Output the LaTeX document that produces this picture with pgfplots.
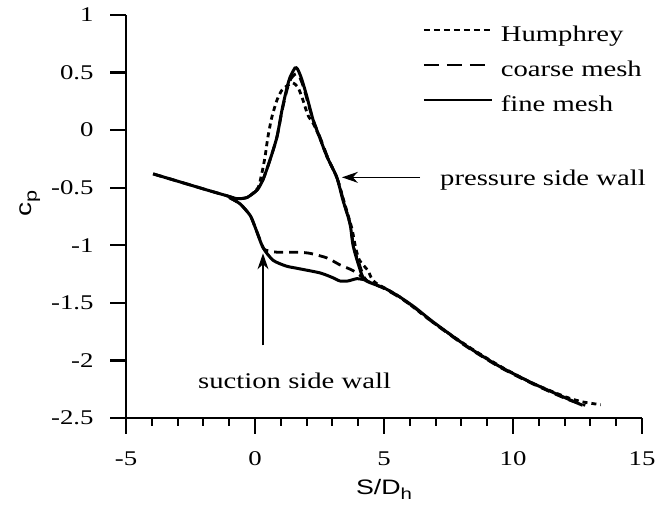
\documentclass[border=0pt]{standalone}
\usepackage{fontspec}
\setmainfont{Liberation Serif}[FakeStretch=1.28]
\setsansfont{Liberation Sans}[FakeStretch=1.28]
\usepackage{pgfplots}
\pgfplotsset{compat=1.18}
\usetikzlibrary{arrows.meta}

\newcommand{\tk}{\fontsize{21}{21}\selectfont}

% wall pressure coefficient along the duct
\pgfplotstableread{
s     cp
-3.95 -0.38
-2.9  -0.45
-1.86 -0.52
-1.09 -0.57
-0.7  -0.595
-0.31 -0.585
0.08  -0.52
0.31  -0.43
0.58  -0.26
0.85  -0.06
1.05  0.18
1.24  0.37
1.36  0.46
1.55  0.54
1.65  0.53
1.8   0.45
2.0   0.3
2.25  0.09
2.5   -0.06
2.79  -0.23
3.17  -0.41
3.41  -0.61
3.68  -0.81
3.8   -1.0
4.0   -1.16
4.25  -1.3
5.0   -1.37
5.62  -1.45
6.2   -1.54
6.9   -1.665
8.2   -1.875
9.5   -2.055
10.78 -2.2
12.08 -2.33
12.7  -2.39
}\finepressure

\pgfplotstableread{
s     cp
-1.0  -0.585
-0.58 -0.64
-0.19 -0.74
0.0   -0.84
0.31  -1.02
0.7   -1.13
1.2   -1.18
1.63  -1.2
2.52  -1.24
3.0   -1.28
3.29  -1.31
3.6   -1.31
3.95  -1.29
4.25  -1.3
}\finesuction

\pgfplotstableread{
s     cp
-3.95 -0.38
-2.9  -0.45
-1.86 -0.52
-1.09 -0.57
-0.7  -0.595
-0.31 -0.585
0.08  -0.52
0.31  -0.43
0.58  -0.26
0.85  -0.06
1.05  0.17
1.24  0.35
1.4   0.45
1.6   0.49
1.75  0.45
1.9   0.36
2.1   0.2
2.3   0.06
2.55  -0.08
2.84  -0.25
3.2   -0.43
3.45  -0.63
3.7   -0.83
3.83  -1.02
4.05  -1.17
4.3   -1.3
5.0   -1.375
5.62  -1.455
6.2   -1.545
6.9   -1.67
8.2   -1.88
9.5   -2.06
10.78 -2.205
12.08 -2.335
12.8  -2.39
}\coarsepressure

\pgfplotstableread{
s     cp
-1.0  -0.585
-0.58 -0.64
-0.19 -0.74
0.0   -0.84
0.28  -1.0
0.39  -1.04
0.85  -1.06
1.63  -1.06
2.13  -1.07
2.79  -1.11
3.29  -1.17
3.8   -1.22
4.3   -1.3
}\coarsesuction

\pgfplotstableread{
s     cp
-0.2  -0.57
0.12  -0.5
0.27  -0.37
0.39  -0.23
0.5   -0.06
0.65  0.11
0.85  0.26
1.05  0.35
1.28  0.39
1.47  0.41
1.67  0.37
1.86  0.26
2.05  0.13
2.25  0.06
2.5   -0.06
2.79  -0.23
3.17  -0.41
3.45  -0.62
3.75  -0.85
3.9   -1.02
4.05  -1.13
4.38  -1.22
4.5   -1.28
4.7   -1.33
5.62  -1.45
6.9   -1.67
8.2   -1.87
9.5   -2.05
10.78 -2.2
12.08 -2.32
12.7  -2.36
13.4  -2.385
}\humphrey

\begin{document}
\begin{tikzpicture}[x=1bp,y=1bp]
\useasboundingbox (0,0) rectangle (656,508);
\begin{axis}[
  at={(126bp,90bp)}, anchor=south west,
  scale only axis, width=516bp, height=403bp,
  xmin=-5, xmax=15, ymin=-2.5, ymax=1,
  axis lines=left,
  axis line style={-, line width=2.6bp},
  xtick={-5,0,5,10,15},
  xticklabels={{\tk -5},{\tk 0},{\tk 5},{\tk 10},{\tk 15}},
  ytick={-2.5,-2,-1.5,-1,-0.5,0,0.5,1},
  yticklabels={{\tk -2.5},{\tk -2},{\tk -1.5},{\tk -1},{\tk -0.5},{\tk 0},{\tk 0.5},{\tk 1}},
  minor x tick num=4,
  tick align=outside,
  major tick length=16bp, minor tick length=8bp,
  major tick style={black, line width=2.4bp},
  minor tick style={black, line width=2bp},
  xticklabel shift=14bp,
  yticklabel shift=13bp,
  xlabel={\sffamily S/D\raisebox{-5bp}{\fontsize{16}{16}\selectfont h}},
  xlabel style={at={(rel axis cs:0.5,0)}, anchor=base, yshift=-77bp,
    font=\fontsize{21}{21}\selectfont},
  ylabel={\sffamily c\raisebox{-5bp}{\fontsize{17}{17}\selectfont p}},
  ylabel style={at={(rel axis cs:0,0.533)}, anchor=center, yshift=96bp,
    font=\fontsize{22}{22}\selectfont},
  legend style={at={(rel axis cs:1,0.975)}, anchor=north east,
    draw=none, fill=none, inner sep=0pt, row sep=14bp,
    font=\fontsize{22.5}{22.5}\selectfont,
    nodes={text height=16bp, text depth=5bp, inner xsep=0pt, inner ysep=0pt}},
  legend cell align=left,
  legend image code/.code={\draw[#1] (5bp,6bp) -- (73bp,6bp);},
  clip=false,
]
\addlegendimage{black, line width=2bp, dash pattern=on 6bp off 4bp}
\addlegendentry{\hspace{8bp}Humphrey}
\addlegendimage{black, line width=2bp, dash pattern=on 15bp off 8bp}
\addlegendentry{\hspace{8bp}coarse mesh}
\addlegendimage{black, line width=2bp}
\addlegendentry{\hspace{8bp}fine mesh}

\addplot[forget plot, black, line width=2.8bp, dash pattern=on 5bp off 4bp, smooth, tension=0.4] table[x=s, y=cp] {\humphrey};
\addplot[forget plot, black, line width=2.8bp, dash pattern=on 9bp off 6bp, smooth, tension=0.4] table[x=s, y=cp] {\coarsepressure};
\addplot[forget plot, black, line width=2.8bp, dash pattern=on 9bp off 6bp, smooth, tension=0.4] table[x=s, y=cp] {\coarsesuction};
\addplot[forget plot, black, line width=3bp, smooth, tension=0.4] table[x=s, y=cp] {\finepressure};
\addplot[forget plot, black, line width=3bp, smooth, tension=0.4] table[x=s, y=cp] {\finesuction};

% annotations
\draw[-{Stealth[length=16bp, width=11bp]}, line width=1.2bp] (axis cs:6.4,-0.41) -- (axis cs:3.37,-0.41);
\node[anchor=base west, inner sep=0pt, font=\fontsize{22.5}{22.5}\selectfont] at (axis cs:7.17,-0.48) {pressure side wall};
\draw[-{Stealth[length=16bp, width=11bp]}, line width=1.2bp] (axis cs:0.31,-1.87) -- (axis cs:0.31,-1.07);
\node[anchor=base west, inner sep=0pt, font=\fontsize{22.5}{22.5}\selectfont] at (axis cs:-2.21,-2.24) {suction side wall};
\end{axis}
\end{tikzpicture}
\end{document}
